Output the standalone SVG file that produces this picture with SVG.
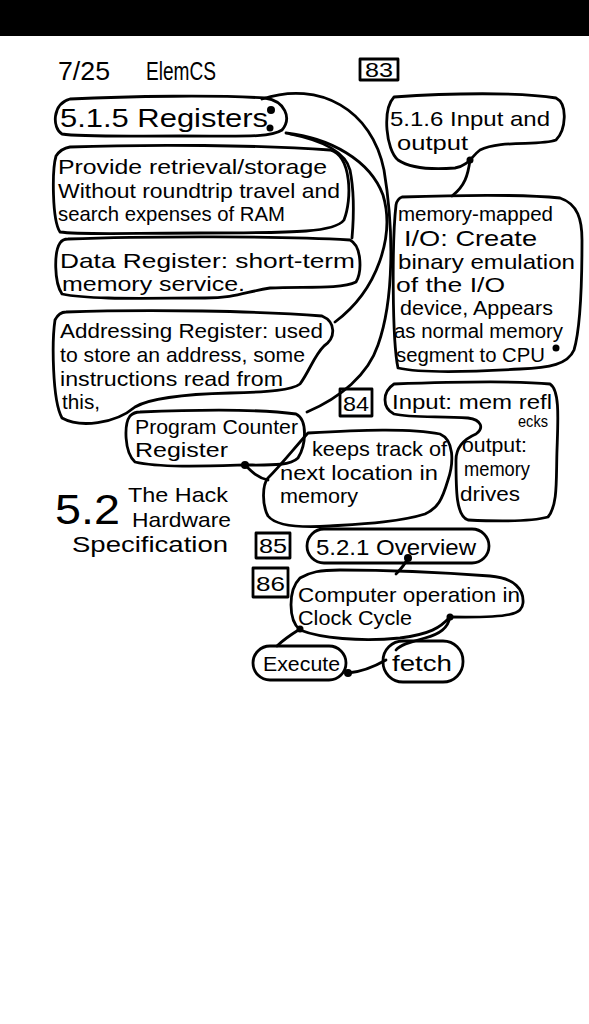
<svg xmlns="http://www.w3.org/2000/svg" width="589" height="1024" viewBox="0 0 589 1024">
  <style>
    .ink { fill: none; stroke: #000; stroke-width: 2.8; stroke-linecap: round; stroke-linejoin: round; }
    .t { font-family: "Liberation Sans", "DejaVu Sans", sans-serif; fill: #000; }
    .s19 { font-size: 20px; }
    .s20 { font-size: 21px; }
    .s21 { font-size: 21px; }
    .s24 { font-size: 26px; }
    .dot { fill: #000; }
  </style>
  <rect x="0" y="0" width="589" height="1024" fill="#fff"/>
  <!-- top scanner bar -->
  <rect x="0" y="0" width="589" height="36" fill="#000"/>

  <!-- page header -->
  <g id="header">
    <text class="t s24" x="58" y="80" textLength="52" lengthAdjust="spacingAndGlyphs">7/25</text>
    <text class="t s24" x="146" y="80" textLength="70" lengthAdjust="spacingAndGlyphs">ElemCS</text>
    <rect class="ink" x="360" y="59" width="38" height="21"/>
    <text class="t s19" x="365" y="77" textLength="28" lengthAdjust="spacingAndGlyphs">83</text>
  </g>

  <!-- connectors -->
  <g id="connectors">
    <path class="ink" d="M262,99 C320,80 372,110 384,170 C394,230 394,300 378,345 C368,375 340,398 307,412"/>
    <path class="ink" d="M286,133 C330,138 370,160 383,195 C395,235 378,290 335,322"/>
    <path class="ink" d="M290,134 C320,140 345,150 350,170 C354,190 354,215 352,238"/>
    <path class="ink" d="M470,160 C468,175 465,186 452,196"/>
    <path class="ink" d="M245,465 C252,472 258,478 268,480"/>
    <path class="ink" d="M408,558 C404,566 400,570 396,574"/>
    <path class="ink" d="M300,629 C292,634 283,640 277,646"/>
    <path class="ink" d="M450,617 C448,628 440,634 425,638 C410,642 400,645 396,650"/>
    <path class="ink" d="M348,673 C360,672 372,668 386,660"/>
    <circle class="dot" cx="271" cy="110" r="4"/>
    <circle class="dot" cx="270" cy="128" r="3.5"/>
    <circle class="dot" cx="470" cy="160" r="3.5"/>
    <circle class="dot" cx="556" cy="348" r="3.5"/>
    <circle class="dot" cx="245" cy="465" r="4"/>
    <circle class="dot" cx="408" cy="558" r="4"/>
    <circle class="dot" cx="300" cy="629" r="3.5"/>
    <circle class="dot" cx="450" cy="617" r="3.5"/>
    <circle class="dot" cx="348" cy="673" r="4"/>
  </g>

  <g id="registers">
    <path class="ink" d="M70,99 C130,96 220,95 265,98 C285,101 292,118 282,130 C270,138 240,136 180,136 C120,136 80,137 62,134 C52,128 52,104 70,99 Z"/>
    <text class="t s24" x="60" y="127" textLength="208" lengthAdjust="spacingAndGlyphs">5.1.5 Registers</text>
  </g>

  <g id="provide">
    <path class="ink" d="M70,147 C150,144 260,145 330,150 C352,156 352,200 344,220 C335,232 300,233 200,233 C130,233 80,235 60,232 C52,220 52,170 56,156 C60,150 64,148 70,147 Z"/>
    <text class="t s20" x="58" y="174" textLength="269" lengthAdjust="spacingAndGlyphs">Provide  retrieval/storage</text>
    <text class="t s20" x="58" y="198" textLength="282" lengthAdjust="spacingAndGlyphs">Without roundtrip travel and</text>
    <text class="t s20" x="58" y="221" textLength="227" lengthAdjust="spacingAndGlyphs">search expenses of RAM</text>
  </g>

  <g id="data-register">
    <path class="ink" d="M68,239 C150,236 280,236 350,240 C362,246 362,272 356,282 C340,290 300,286 270,288 C245,292 235,298 205,298 C150,298 90,300 62,294 C54,282 54,252 60,243 C62,240 65,239 68,239 Z"/>
    <text class="t s21" x="60" y="268" textLength="295" lengthAdjust="spacingAndGlyphs">Data  Register: short-term</text>
    <text class="t s21" x="62" y="291" textLength="183" lengthAdjust="spacingAndGlyphs">memory service.</text>
  </g>

  <g id="addressing-register">
    <path class="ink" d="M66,312 C150,309 260,311 322,316 C336,322 336,338 324,346 C314,356 310,370 300,384 C292,390 270,392 230,393 C190,394 150,398 135,407 C115,424 80,428 62,418 C52,400 52,340 55,320 C58,314 62,312 66,312 Z"/>
    <text class="t s20" x="60" y="338" textLength="263" lengthAdjust="spacingAndGlyphs">Addressing Register: used</text>
    <text class="t s20" x="60" y="362" textLength="245" lengthAdjust="spacingAndGlyphs">to store an address, some</text>
    <text class="t s20" x="60" y="386" textLength="223" lengthAdjust="spacingAndGlyphs">instructions read from</text>
    <text class="t s20" x="62" y="409" textLength="38" lengthAdjust="spacingAndGlyphs">this,</text>
  </g>

  <g id="program-counter">
    <path class="ink" d="M140,412 C190,410 260,409 296,414 C308,420 306,445 298,458 C290,466 270,465 245,465 C210,466 160,468 135,462 C124,452 124,424 130,416 C133,413 136,412 140,412 Z"/>
    <text class="t s21" x="135" y="434" textLength="163" lengthAdjust="spacingAndGlyphs">Program Counter</text>
    <text class="t s21" x="135" y="457" textLength="93" lengthAdjust="spacingAndGlyphs">Register</text>
  </g>

  <g id="keeps-track">
    <path class="ink" d="M308,433 C360,430 410,428 440,434 C454,440 454,462 448,480 C442,500 438,508 425,514 C400,522 360,524 330,526 C300,528 276,526 268,516 C262,505 262,485 268,478 C282,464 296,446 308,433 Z"/>
    <text class="t s20" x="312" y="456" textLength="135" lengthAdjust="spacingAndGlyphs">keeps track of</text>
    <text class="t s20" x="280" y="480" textLength="158" lengthAdjust="spacingAndGlyphs">next location in</text>
    <text class="t s20" x="280" y="503" textLength="78" lengthAdjust="spacingAndGlyphs">memory</text>
  </g>

  <g id="input-output">
    <path class="ink" d="M394,97 C450,93 520,92 556,98 C568,104 566,130 556,140 C540,146 500,140 480,150 C472,156 468,166 455,168 C430,170 410,168 398,160 C386,150 382,110 394,97 Z"/>
    <text class="t s21" x="390" y="126" textLength="160" lengthAdjust="spacingAndGlyphs">5.1.6 Input and</text>
    <text class="t s21" x="397" y="150" textLength="71" lengthAdjust="spacingAndGlyphs">output</text>
  </g>

  <g id="memory-mapped">
    <path class="ink" d="M402,197 C460,195 520,194 560,198 C578,204 582,220 582,240 C582,290 580,330 574,350 C568,364 550,368 520,369 C470,372 420,373 398,368 C392,340 392,240 396,205 C397,200 399,198 402,197 Z"/>
    <text class="t s19" x="398" y="221" textLength="155" lengthAdjust="spacingAndGlyphs">memory-mapped</text>
    <text class="t" font-size="22" x="404" y="246" textLength="133" lengthAdjust="spacingAndGlyphs">I/O: Create</text>
    <text class="t s20" x="398" y="269" textLength="177" lengthAdjust="spacingAndGlyphs">binary emulation</text>
    <text class="t s20" x="396" y="292" textLength="109" lengthAdjust="spacingAndGlyphs">of the I/O</text>
    <text class="t s20" x="400" y="315" textLength="153" lengthAdjust="spacingAndGlyphs">device, Appears</text>
    <text class="t s19" x="394" y="338" textLength="169" lengthAdjust="spacingAndGlyphs">as normal memory</text>
    <text class="t s19" x="396" y="362" textLength="149" lengthAdjust="spacingAndGlyphs">segment to CPU</text>
  </g>

  <g id="page-84">
    <rect class="ink" x="340" y="389" width="32" height="27"/>
    <text class="t s20" x="343" y="411" textLength="26" lengthAdjust="spacingAndGlyphs">84</text>
  </g>

  <g id="input-mem">
    <path class="ink" d="M394,384 C450,382 520,381 550,384 C560,390 558,420 557,450 C556,480 558,505 548,517 C530,522 490,521 468,520 C456,516 456,490 456,460 C456,448 462,440 476,434 C484,428 482,420 468,418 C440,416 410,418 394,414 C382,408 382,392 394,384 Z"/>
    <text class="t s20" x="392" y="409" textLength="160" lengthAdjust="spacingAndGlyphs">Input: mem refl</text>
    <text class="t" font-size="17" x="518" y="427" textLength="30" lengthAdjust="spacingAndGlyphs">ecks</text>
    <text class="t s19" x="462" y="452" textLength="65" lengthAdjust="spacingAndGlyphs">output:</text>
    <text class="t s19" x="464" y="476" textLength="66" lengthAdjust="spacingAndGlyphs">memory</text>
    <text class="t s21" x="460" y="501" textLength="60" lengthAdjust="spacingAndGlyphs">drives</text>
  </g>

  <g id="hack-hardware">
    <text class="t" font-size="42" x="55" y="524" textLength="65" lengthAdjust="spacingAndGlyphs">5.2</text>
    <text class="t s20" x="128" y="502" textLength="100" lengthAdjust="spacingAndGlyphs">The Hack</text>
    <text class="t s20" x="132" y="527" textLength="99" lengthAdjust="spacingAndGlyphs">Hardware</text>
    <text class="t" font-size="22" x="72" y="552" textLength="156" lengthAdjust="spacingAndGlyphs">Specification</text>
  </g>

  <g id="page-85">
    <rect class="ink" x="256" y="533" width="34" height="25"/>
    <text class="t s19" x="259" y="553" textLength="28" lengthAdjust="spacingAndGlyphs">85</text>
  </g>

  <g id="overview">
    <rect class="ink" x="307" y="529" width="182" height="34" rx="17"/>
    <text class="t" font-size="22" x="316" y="555" textLength="160" lengthAdjust="spacingAndGlyphs">5.2.1 Overview</text>
  </g>

  <g id="page-86">
    <rect class="ink" x="253" y="568" width="35" height="29"/>
    <text class="t s20" x="256" y="591" textLength="29" lengthAdjust="spacingAndGlyphs">86</text>
  </g>

  <g id="clock-cycle">
    <path class="ink" d="M300,578 C310,572 320,570 340,570 C400,570 450,573 490,576 C515,578 524,590 523,603 C522,614 512,618 450,617 C440,628 430,634 400,638 C360,642 320,638 300,630 C288,620 288,590 300,578 Z"/>
    <text class="t s20" x="298" y="602" textLength="222" lengthAdjust="spacingAndGlyphs">Computer operation in</text>
    <text class="t s21" x="298" y="625" textLength="114" lengthAdjust="spacingAndGlyphs">Clock Cycle</text>
  </g>

  <g id="execute">
    <rect class="ink" x="253" y="646" width="93" height="34" rx="17"/>
    <text class="t s19" x="263" y="671" textLength="77" lengthAdjust="spacingAndGlyphs">Execute</text>
  </g>

  <g id="fetch">
    <rect class="ink" x="383" y="641" width="80" height="41" rx="20"/>
    <text class="t" font-size="22" x="392" y="671" textLength="60" lengthAdjust="spacingAndGlyphs">fetch</text>
  </g>
</svg>
